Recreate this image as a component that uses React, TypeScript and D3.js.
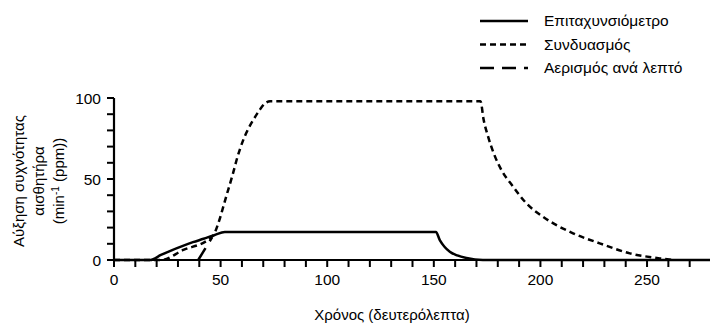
import React from "react";
import * as d3 from "d3";

const accelT = [0, 17, 22, 27, 32, 37, 42, 47, 52, 151, 152.8, 155, 157.5, 161, 165.3, 173, 280];
const accelV = [0, 0, 3.1, 6.0, 8.6, 11.0, 13.1, 15.3, 17.3, 17.3, 12.3, 8.2, 5.1, 2.8, 1.2, 0, 0];

const combT = [0, 22, 32.5, 45, 47.3, 48.9, 52.8, 55.5, 58, 60.6, 63, 65.3, 68, 70.8, 73.3, 171.9, 173.3, 175.5, 178.2, 181.7, 187.2, 193.4, 201.2, 215.3, 227.8, 241.9, 256, 262];
const combV = [0, 0, 6.2, 13.4, 17, 22.6, 40, 52, 64, 74, 81, 86.4, 92, 96.7, 98, 98, 87, 76, 65.5, 55.6, 45.3, 35, 26.7, 16.5, 10.3, 4.1, 1, 0];

const mvT = [39.5, 46];
const mvV = [0, 14];

const xTicks = [0, 50, 100, 150, 200, 250];
const yTicks = [0, 50, 100];

const legendLabels = ["Επιταχυνσιόμετρο", "Συνδυασμός", "Αερισμός ανά λεπτό"];
const legendDash = ["none", "6 4", "14 8"];

const yTitle = ["Αύξηση συχνότητας", "αισθητήρα"];
const xTitle = "Χρόνος (δευτερόλεπτα)";

export default function App() {
  const W = 710, H = 325;
  const x = d3.scaleLinear().domain([0, 280]).range([114, 711]);
  const y = d3.scaleLinear().domain([0, 100]).range([260, 98]);
  const mk = (ts: number[], vs: number[]) =>
    d3.line<[number, number]>().x((d) => x(d[0])).y((d) => y(d[1])).curve(d3.curveMonotoneX)(ts.map((t, i) => [t, vs[i]]) as [number, number][]) || "";
  const font = "'Liberation Sans', Arial, sans-serif";
  const xMinor = d3.range(0, 280, 10);
  const yMinor = d3.range(0, 101, 10);
  const series = [
    { d: mk(accelT, accelV), dash: legendDash[0] },
    { d: mk(combT, combV), dash: legendDash[1] },
    { d: mk(mvT, mvV), dash: legendDash[2] },
  ];
  const legY = [21, 44.5, 68];
  return (
    <svg width={W} height={H} style={{ position: "absolute", left: 0, top: 0, background: "#fff" }} fontFamily={font}>
      <rect width={W} height={H} fill="#fff" />
      {series.map((s, i) => (
        <path key={i} d={s.d} fill="none" stroke="#000" strokeWidth={2.5} strokeDasharray={s.dash === "none" ? undefined : s.dash} />
      ))}
      {/* x axis */}
      <line x1={x(0) - 1} x2={x(280)} y1={y(0)} y2={y(0)} stroke="#000" strokeWidth={2.2} />
      {xMinor.map((t) => (
        <line key={t} x1={x(t)} x2={x(t)} y1={y(0)} y2={y(0) + 7} stroke="#000" strokeWidth={2} />
      ))}
      {xTicks.map((t) => (
        <text key={t} x={x(t)} y={y(0) + 25} textAnchor="middle" fontSize={15.5}>{t}</text>
      ))}
      {/* y axis */}
      <line x1={x(0)} x2={x(0)} y1={y(0)} y2={y(100)} stroke="#000" strokeWidth={2.2} />
      {yMinor.map((v) => (
        <line key={v} x1={x(0) - 7} x2={x(0)} y1={y(v)} y2={y(v)} stroke="#000" strokeWidth={2} />
      ))}
      {yTicks.map((v) => (
        <text key={v} x={x(0) - 13} y={y(v) + 5.5} textAnchor="end" fontSize={15.5}>{v}</text>
      ))}
      {/* y title */}
      <g transform="translate(0,181) rotate(-90)" fontSize={15} textAnchor="middle">
        <text x={0} y={24}>{yTitle[0]}</text>
        <text x={0} y={44}>{yTitle[1]}</text>
        <text x={0} y={64}>
          (min<tspan dy={-5} fontSize={10}>-1</tspan><tspan dy={5}> (ppm))</tspan>
        </text>
      </g>
      {/* x title */}
      <text x={392} y={320} textAnchor="middle" fontSize={15}>{xTitle}</text>
      {/* legend */}
      {legendLabels.map((l, i) => (
        <g key={l}>
          <line x1={480} x2={528} y1={legY[i]} y2={legY[i]} stroke="#000" strokeWidth={2.5} strokeDasharray={legendDash[i] === "none" ? undefined : legendDash[i]} />
          <text x={544} y={legY[i] + 5} fontSize={15.5}>{l}</text>
        </g>
      ))}
    </svg>
  );
}
